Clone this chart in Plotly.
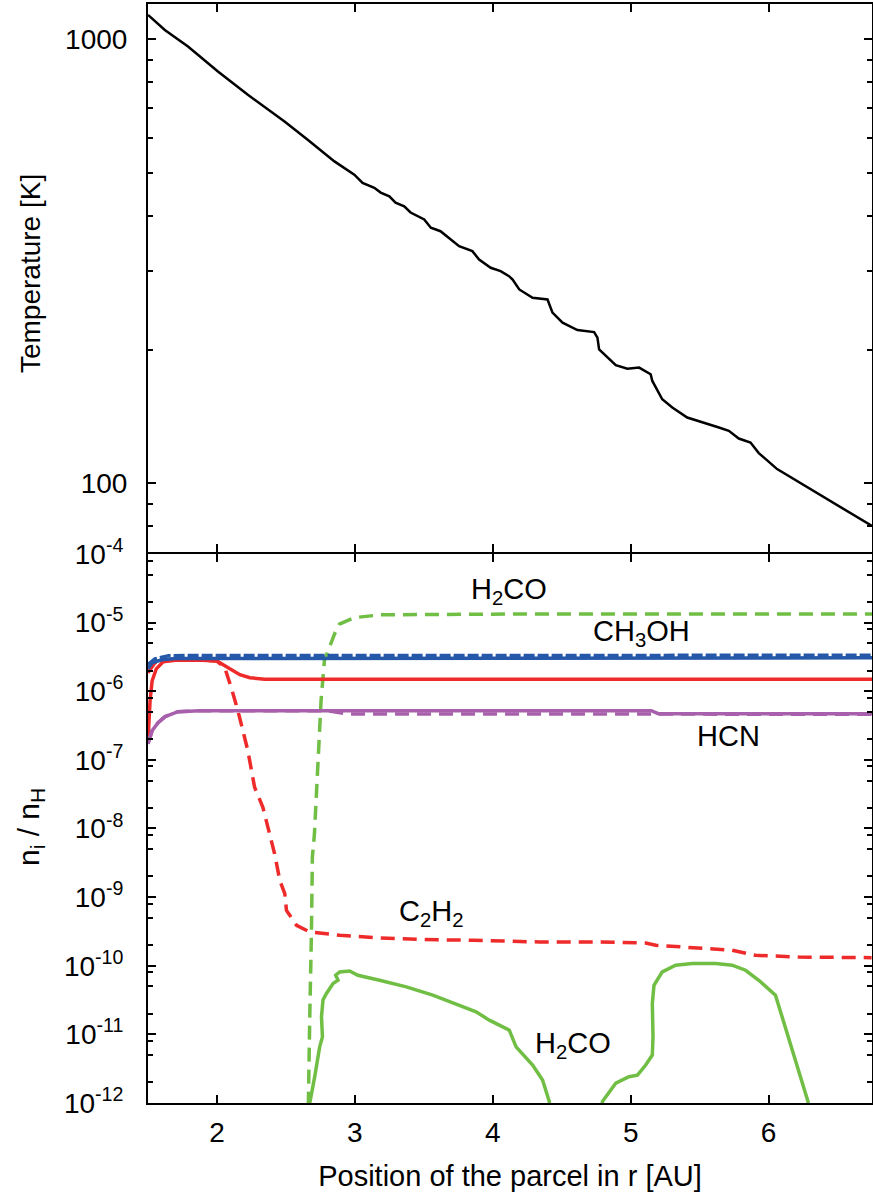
import plotly.graph_objects as go
import numpy as np

# ---------------- data ----------------
# Temperature profile (top panel)
temp_r = [1.500, 1.622, 1.790, 2.007, 2.224, 2.490, 2.658, 2.852, 2.996, 3.056, 3.141, 3.187,
          3.250, 3.295, 3.358, 3.404, 3.503, 3.551, 3.621, 3.756, 3.852, 3.901, 3.985, 4.057,
          4.118, 4.144, 4.192, 4.289, 4.397, 4.433, 4.506, 4.614, 4.735, 4.759, 4.771, 4.892,
          4.976, 5.061, 5.145, 5.157, 5.229, 5.302, 5.410, 5.519, 5.640, 5.712, 5.784, 5.869,
          5.929, 6.062, 6.747]
temp_T = [1134, 1049, 962.5, 845.7, 749.6, 652.7, 593.8, 530.8, 495.6, 474.8, 462.7, 451.5,
          442.9, 428.7, 420.6, 407.2, 392.7, 376.2, 369.6, 342.0, 333.3, 319.2, 305.8, 300.5,
          292.8, 287.8, 273.3, 261.8, 259.5, 242.3, 230.0, 221.4, 219.1, 212.9, 200.4, 184.5,
          181.3, 182.3, 176.1, 170.1, 154.7, 148.2, 140.7, 137.5, 133.6, 131.3, 126.2, 123.6,
          117.0, 107.7, 80.3]

# CH3OH (blue)
ch3oh_solid_r = [1.50, 1.53, 1.60, 1.70, 6.75]
ch3oh_solid_n = [2.12e-6, 2.6e-6, 2.87e-6, 3.0e-6, 3.07e-6]
ch3oh_dash_r = [1.50, 1.55, 1.65, 6.75]
ch3oh_dash_n = [2.45e-6, 2.96e-6, 3.3e-6, 3.34e-6]

# C2H2 (red)
c2h2_solid_r = [1.500, 1.515, 1.530, 1.560, 1.610, 1.700, 1.850, 2.000, 2.033, 2.094, 2.166,
                2.239, 2.347, 6.75]
c2h2_solid_n = [1.9e-7, 7.28e-7, 1.42e-6, 2.12e-6, 2.69e-6, 2.82e-6, 2.85e-6, 2.75e-6, 2.51e-6,
                2.12e-6, 1.74e-6, 1.57e-6, 1.50e-6, 1.50e-6]
c2h2_dash_r = [1.50, 1.55, 1.65, 1.85, 2.00, 2.056, 2.103, 2.152, 2.224, 2.273, 2.333, 2.381,
               2.418, 2.456, 2.492, 2.504, 2.577, 2.673, 2.890, 3.131, 3.493, 3.855, 4.337,
               4.771, 5.109, 5.182, 5.736, 5.905, 6.219, 6.747]
c2h2_dash_n = [1.86e-6, 2.6e-6, 2.87e-6, 2.85e-6, 2.75e-6, 2.22e-6, 1.14e-6, 5.2e-7, 1.36e-7,
               3.99e-8, 2.04e-8, 8.37e-9, 4.29e-9, 1.75e-9, 1.12e-9, 6.41e-10, 3.88e-10,
               3.10e-10, 2.78e-10, 2.57e-10, 2.41e-10, 2.35e-10, 2.22e-10, 2.22e-10, 2.15e-10,
               1.99e-10, 1.68e-10, 1.42e-10, 1.34e-10, 1.31e-10]

# HCN (purple)
hcn_solid_r = [1.500, 1.530, 1.573, 1.624, 1.718, 1.877, 5.150, 5.200, 6.75]
hcn_solid_n = [1.72e-7, 2.66e-7, 3.48e-7, 4.26e-7, 5.03e-7, 5.2e-7, 5.2e-7, 4.7e-7, 4.7e-7]
hcn_dash_r = [1.500, 1.530, 1.573, 1.624, 1.718, 1.877, 2.80, 2.95, 6.75]
hcn_dash_n = [1.72e-7, 2.66e-7, 3.48e-7, 4.26e-7, 5.03e-7, 5.2e-7, 5.2e-7, 4.65e-7, 4.63e-7]

# H2CO (green)
h2co_dash_r = [2.655, 2.661, 2.673, 2.685, 2.692, 2.707, 2.731, 2.755, 2.779, 2.852, 2.888,
               2.996, 3.189, 4.120, 6.75]
h2co_dash_n = [1e-13, 1e-12, 1.8e-11, 2.97e-10, 3.83e-9, 8.38e-9, 7.8e-8, 7.28e-7, 2.78e-6,
               6.79e-6, 9.49e-6, 1.18e-5, 1.30e-5, 1.33e-5, 1.33e-5]
h2co_solid_r = [2.668, 2.673, 2.709, 2.745, 2.765, 2.758, 2.769, 2.794, 2.842, 2.878, 2.861,
                2.890, 2.962, 3.022, 3.179, 3.373, 3.565, 3.758, 3.879, 3.975, 4.084, 4.120,
                4.169, 4.289, 4.361, 4.410, 4.420,
                4.785, 4.795, 4.892, 4.988, 5.049, 5.109, 5.157, 5.162, 5.157, 5.169, 5.229,
                5.326, 5.447, 5.616, 5.736, 5.833, 5.929, 6.050, 6.286, 6.295]
h2co_solid_n = [1e-13, 1e-12, 2.42e-12, 6.59e-12, 9.2e-12, 1.8e-11, 3.18e-11, 3.95e-11,
                5.51e-11, 6.15e-11, 7.27e-11, 8.13e-11, 8.4e-11, 7.27e-11, 6.15e-11, 4.92e-11,
                3.73e-11, 2.66e-11, 2.13e-11, 1.61e-11, 1.27e-11, 1.15e-11, 6.59e-12, 3.57e-12,
                2.16e-12, 1.05e-12, 1e-13,
                1e-13, 1.05e-12, 1.94e-12, 2.42e-12, 2.55e-12, 3.57e-12, 4.99e-12, 9.2e-12,
                2.82e-11, 5.2e-11, 8.13e-11, 1.02e-10, 1.08e-10, 1.08e-10, 1.02e-10, 8.6e-11,
                6.15e-11, 3.73e-11, 1.05e-12, 1e-13]

x_ticks = [2, 3, 4, 5, 6]
temp_ticks = [100, 1000]
temp_tick_text = ["100", "1000"]
abund_exps = [-12, -11, -10, -9, -8, -7, -6, -5, -4]
abund_minor_mult = [2, 5, 8]

# ---------------- styles ----------------
BLUE = "rgb(38,88,170)"
RED = "rgb(238,42,42)"
PURPLE = "rgb(168,96,172)"
GREEN = "rgb(112,190,68)"
FONT = "Liberation Sans, Arial, Helvetica, sans-serif"
DASH = "14px,8px"

fig = go.Figure()

fig.add_trace(go.Scatter(x=temp_r, y=temp_T, mode="lines", line=dict(color="black", width=2.5),
                         xaxis="x", yaxis="y", showlegend=False))

def add(x, y, color, dash, width=3.5):
    fig.add_trace(go.Scatter(x=x, y=y, mode="lines",
                             line=dict(color=color, width=width, dash=dash),
                             xaxis="x2", yaxis="y2", showlegend=False))

add(h2co_solid_r, h2co_solid_n, GREEN, "solid")
add(h2co_dash_r, h2co_dash_n, GREEN, DASH)
add(c2h2_solid_r, c2h2_solid_n, RED, "solid")
add(c2h2_dash_r, c2h2_dash_n, RED, DASH)
add(hcn_solid_r, hcn_solid_n, PURPLE, "solid")
add(hcn_dash_r, hcn_dash_n, PURPLE, DASH)
add(ch3oh_solid_r, ch3oh_solid_n, BLUE, "solid")
add(ch3oh_dash_r, ch3oh_dash_n, BLUE, "11px,3px")

abund_vals = [10.0 ** e for e in abund_exps]
abund_text = ["10<sup>-%d</sup>" % (-e) for e in abund_exps]
abund_minor = [m * 10.0 ** e for e in abund_exps[:-1] for m in abund_minor_mult]

xr = [1.5, 6.75]
split = 0.5005
px = 1.0 / 1099
axcommon = dict(showline=True, linecolor="black", linewidth=2, mirror="ticks",
                ticks="inside", tickcolor="black", tickwidth=1.5, showgrid=False,
                zeroline=False, automargin=False,
                tickfont=dict(family=FONT, size=28, color="black"))

fig.update_layout(
    width=873, height=1199,
    margin=dict(l=148, r=1, t=4, b=96),
    plot_bgcolor="white", paper_bgcolor="white",
    font=dict(family=FONT, size=28, color="black"),
    xaxis=dict(axcommon, range=xr, domain=[0, 1], anchor="y", tickvals=x_ticks,
               showticklabels=False, ticklen=8),
    yaxis=dict(axcommon, type="log", domain=[split + px, 1], anchor="x",
               range=[np.log10(70.1), np.log10(1200)], tickvals=temp_ticks,
               ticktext=temp_tick_text, ticklen=8, ticklabelstandoff=13,
               minor=dict(ticks="inside", ticklen=5, dtick="D1", tickcolor="black",
                          tickwidth=1.5, showgrid=False)),
    xaxis2=dict(axcommon, range=xr, domain=[0, 1], anchor="y2", tickvals=x_ticks,
                ticklen=8, ticklabelstandoff=3, matches="x",
                title=dict(text="Position of the parcel in r [AU]",
                           font=dict(family=FONT, size=29), standoff=19)),
    yaxis2=dict(axcommon, type="log", domain=[0, split - px], anchor="x2", range=[-12, -4],
                tickvals=abund_vals, ticktext=abund_text, ticklen=8, ticklabelstandoff=17,
                minor=dict(ticks="inside", ticklen=5, tickvals=abund_minor, tickcolor="black",
                           tickwidth=1.5, showgrid=False)),
)

# y-axis titles
fig.add_annotation(x=-0.163, y=0.7552, xref="paper", yref="paper", text="Temperature [K]",
                   textangle=-90, showarrow=False, xanchor="center", yanchor="middle",
                   font=dict(family=FONT, size=28, color="black"))
fig.add_annotation(x=-0.163, y=0.2511, xref="paper", yref="paper",
                   text="n<sub>i</sub> / n<sub>H</sub>",
                   textangle=-90, showarrow=False, xanchor="center", yanchor="middle",
                   font=dict(family=FONT, size=30, color="black"))

labels = [
    (4.12, -4.538, "H<sub>2</sub>CO"),
    (5.08, -5.149, "CH<sub>3</sub>OH"),
    (5.71, -6.647, "HCN"),
    (3.55, -9.236, "C<sub>2</sub>H<sub>2</sub>"),
    (4.58, -11.156, "H<sub>2</sub>CO"),
]
for x, y, t in labels:
    fig.add_annotation(x=x, y=y, xref="x2", yref="y2", text=t, showarrow=False,
                       font=dict(family=FONT, size=29, color="black"))

fig.write_html("out.html", config={"displayModeBar": False},
               post_script="document.body.style.margin='0';document.body.style.overflow='hidden';")
